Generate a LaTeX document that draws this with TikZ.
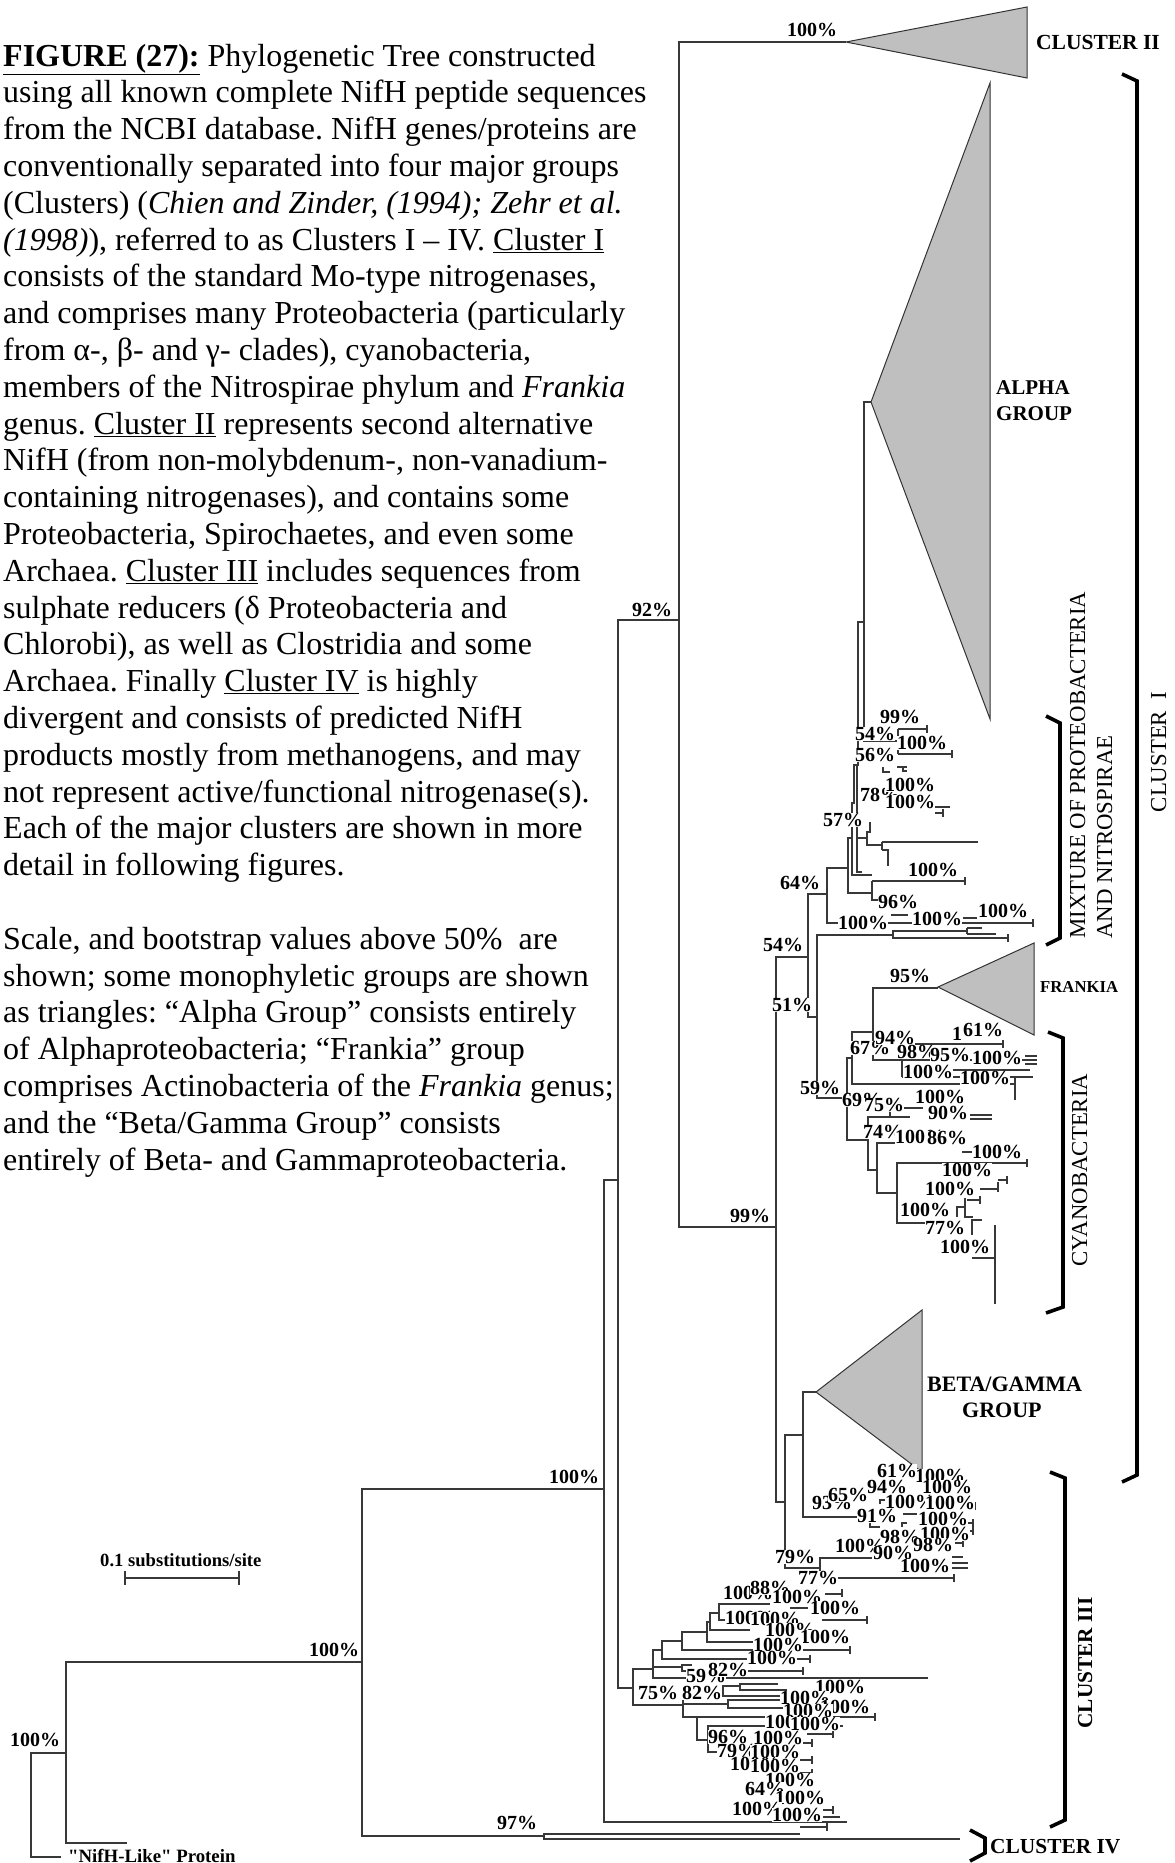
\documentclass[tikz,border=0pt]{standalone}
\usepackage{fontspec}
\setmainfont{Liberation Serif}
\frenchspacing
\newcommand\leaftick[2]{\draw[br] (#1,#2-4) -- (#1,#2+4);}
\begin{document}
\begin{tikzpicture}[x=1pt,y=-1pt,
  br/.style={draw=black!78, line width=1.15pt},
  tri/.style={draw=black!80, line width=1pt, fill=black!25},
  brk/.style={draw=black, line width=3.6pt},
  captxt/.style={anchor=base west, inner sep=0pt, font=\fontsize{32}{36.8}\selectfont},
  bs/.style={fill=white, inner sep=0.2pt, font=\fontsize{20}{20}\selectfont\bfseries},
  grp/.style={anchor=base west, inner sep=0pt, font=\fontsize{21}{21}\selectfont\bfseries},
  rottxt/.style={rotate=90, inner sep=0pt, font=\fontsize{22.8}{22.8}\selectfont}]
\useasboundingbox (0,0) rectangle (1175,1863);

% ---------------- caption ----------------
\node[captxt] (c1) at (3,66) {\underline{\textbf{FIGURE (27):}} Phylogenetic Tree constructed};
\node[captxt] (c2) at (3,102.8) {using all known complete NifH peptide sequences};
\node[captxt] (c3) at (3,139.6) {from the NCBI database. NifH genes/proteins are};
\node[captxt] (c4) at (3,176.4) {conventionally separated into four major groups};
\node[captxt] (c5) at (3,213.2) {(Clusters) (\textit{Chien and Zinder, (1994); Zehr et al.}};
\node[captxt] (c6) at (3,250) {\textit{(1998)}), referred to as Clusters I – IV. \underline{Cluster I}};
\node[captxt] (c7) at (3,286.8) {consists of the standard Mo-type nitrogenases,};
\node[captxt] (c8) at (3,323.6) {and comprises many Proteobacteria (particularly};
\node[captxt] (c9) at (3,360.4) {from α-, β- and γ- clades), cyanobacteria,};
\node[captxt] (c10) at (3,397.2) {members of the Nitrospirae phylum and \textit{Frankia}};
\node[captxt] (c11) at (3,434) {genus. \underline{Cluster II} represents second alternative};
\node[captxt] (c12) at (3,470.8) {NifH (from non-molybdenum-, non-vanadium-};
\node[captxt] (c13) at (3,507.6) {containing nitrogenases), and contains some};
\node[captxt] (c14) at (3,544.4) {Proteobacteria, Spirochaetes, and even some};
\node[captxt] (c15) at (3,581.2) {Archaea. \underline{Cluster III} includes sequences from};
\node[captxt] (c16) at (3,618) {sulphate reducers (δ Proteobacteria and};
\node[captxt] (c17) at (3,654.8) {Chlorobi), as well as Clostridia and some};
\node[captxt] (c18) at (3,691.6) {Archaea. Finally \underline{Cluster IV} is highly};
\node[captxt] (c19) at (3,728.4) {divergent and consists of predicted NifH};
\node[captxt] (c20) at (3,765.2) {products mostly from methanogens, and may};
\node[captxt] (c21) at (3,802) {not represent active/functional nitrogenase(s).};
\node[captxt] (c22) at (3,838.8) {Each of the major clusters are shown in more};
\node[captxt] (c23) at (3,875.6) {detail in following figures.};
\node[captxt] (c25) at (3,949.2) {Scale, and bootstrap values above 50\%\ \ are};
\node[captxt] (c26) at (3,986) {shown; some monophyletic groups are shown};
\node[captxt] (c27) at (3,1022.8) {as triangles: “Alpha Group” consists entirely};
\node[captxt] (c28) at (3,1059.6) {of Alphaproteobacteria; “Frankia” group};
\node[captxt] (c29) at (3,1096.4) {comprises Actinobacteria of the \textit{Frankia} genus;};
\node[captxt] (c30) at (3,1133.2) {and the “Beta/Gamma Group” consists};
\node[captxt] (c31) at (3,1170) {entirely of Beta- and Gammaproteobacteria.};

% ---------------- triangles ----------------
\draw[tri] (846,42) -- (1027,7) -- (1027,78) -- cycle;
\draw[tri] (871,402) -- (990,83) -- (990,719) -- cycle;
\draw[tri] (938,987) -- (1034,943) -- (1034,1035) -- cycle;
\draw[tri] (816,1392) -- (922,1310) -- (922,1472) -- cycle;

% ---------------- backbone ----------------
\draw[br] (66,1753) -- (31,1753) -- (31,1857) -- (61,1857);
\draw[br] (362,1662) -- (66,1662) -- (66,1843) -- (127,1843);
\draw[br] (604,1489) -- (362,1489) -- (362,1836) -- (544,1836);
\draw[br] (800,1834) -- (544,1834) -- (544,1839) -- (960,1839);
\draw[br] (618,1180) -- (604,1180) -- (604,1822) -- (847,1822);
\draw[br] (679,620) -- (618,620) -- (618,1688) -- (633,1688);
\draw[br] (846,42) -- (679,42) -- (679,1227) -- (776,1227);
\draw[br] (808,957) -- (776,957) -- (776,1502) -- (785,1502);

% ---------------- alpha / mixture ----------------
\draw[br] (871,402) -- (864,402) -- (864,741) -- (898,741);
\draw[br] (898,729) -- (898,754);
\draw[br] (898,729) -- (927,729); \leaftick{927}{729}
\draw[br] (898,754) -- (952,754); \leaftick{952}{754}
\draw[br] (864,622) -- (858,622) -- (858,765) -- (854,765) -- (854,803) -- (852,803) -- (852,875) -- (872,875);
\draw[br] (857,765) -- (857,872) -- (862,872);
\draw[br] (883,767) -- (883,772) -- (890,772);
\draw[br] (897,767) -- (907,767); \draw[br] (903,767) -- (903,771) -- (907,771);
\draw[br] (933,807) -- (950,807); \draw[br] (935,813) -- (943,813); \leaftick{943}{813}
\draw[br] (857,838) -- (867,838);
\draw[br] (870,822) -- (870,832) -- (867,832) -- (867,845) -- (882,845);
\draw[br] (882,842) -- (882,850);
\draw[br] (882,842) -- (978,842);
\draw[br] (882,850) -- (888,850) -- (888,866);
\draw[br] (827,894) -- (808,894) -- (808,1017) -- (817,1017);
\draw[br] (848,868) -- (827,868) -- (827,923) -- (1033,923); \leaftick{1033}{923}
\draw[br] (891,915) -- (908,915); \draw[br] (963,918) -- (977,918);
\draw[br] (852,838) -- (848,838) -- (848,893) -- (872,893);
\draw[br] (872,881) -- (872,900) -- (880,900);
\draw[br] (872,881) -- (965,881); \leaftick{965}{881}
\draw[br] (893,935) -- (817,935) -- (817,1098) -- (847,1098);
\draw[br] (967,931) -- (893,931) -- (893,938) -- (1008,938); \leaftick{1008}{938}
\draw[br] (967,928) -- (967,934); \draw[br] (967,928) -- (982,928); \draw[br] (967,934) -- (996,934);

% ---------------- Frankia / cyanobacteria ----------------
\draw[br] (852,1058) -- (847,1058) -- (847,1140) -- (868,1140);
\draw[br] (873,1032) -- (852,1032) -- (852,1084) -- (1015,1084);
\draw[br] (1015,1078) -- (1015,1100);
\draw[br] (938,988) -- (873,988) -- (873,1060) -- (902,1060);
\draw[br] (902,1044) -- (902,1077);
\draw[br] (902,1044) -- (1003,1044); \leaftick{1003}{1044}
\draw[br] (902,1060) -- (1037,1060);
\draw[br] (1025,1056) -- (1037,1056); \draw[br] (1025,1064) -- (1037,1064);
\draw[br] (902,1070) -- (1030,1070);
\draw[br] (902,1077) -- (1033,1077);
\draw[br] (890,1117) -- (868,1117) -- (868,1170) -- (877,1170);
\draw[br] (890,1108) -- (890,1117) -- (910,1117);
\draw[br] (890,1108) -- (923,1108);
\draw[br] (970,1115) -- (992,1115); \draw[br] (970,1119) -- (992,1119);
\draw[br] (903,1143) -- (877,1143) -- (877,1193) -- (897,1193);
\draw[br] (903,1143) -- (930,1143);
\draw[br] (962,1152) -- (977,1152);
\draw[br] (947,1163) -- (897,1163) -- (897,1223) -- (940,1223);
\draw[br] (947,1163) -- (1027,1163); \leaftick{1027}{1163}
\draw[br] (998,1180) -- (1007,1180); \leaftick{1007}{1180}
\draw[br] (980,1189) -- (998,1189); \draw[br] (998,1182) -- (998,1192);
\draw[br] (967,1200) -- (980,1200); \leaftick{980}{1200}
\draw[br] (965,1207) -- (957,1207) -- (957,1217);
\draw[br] (965,1198) -- (965,1217) -- (973,1217);
\draw[br] (982,1220) -- (972,1220) -- (972,1235);
\draw[br] (995,1225) -- (995,1304);
\draw[br] (972,1258) -- (995,1258);

% ---------------- beta/gamma ----------------
\draw[br] (803,1435) -- (785,1435) -- (785,1568) -- (820,1568);
\draw[br] (816,1392) -- (803,1392) -- (803,1517) -- (857,1517);
\draw[br] (872,1558) -- (820,1558) -- (820,1578) -- (954,1578); \leaftick{954}{1578}
\draw[br] (880,1504) -- (880,1500) -- (890,1500);
\draw[br] (903,1514) -- (917,1514);
\draw[br] (870,1523) -- (870,1527) -- (880,1527);
\draw[br] (907,1523) -- (902,1523) -- (902,1527);
\draw[br] (957,1506) -- (975,1506); \leaftick{975}{1506}
\draw[br] (957,1523) -- (973,1523); \leaftick{973}{1523}
\draw[br] (963,1531) -- (973,1531); \leaftick{973}{1531}
\draw[br] (955,1543) -- (963,1543); \leaftick{963}{1543}
\draw[br] (952,1557) -- (963,1557);
\draw[br] (952,1563) -- (968,1563);
\draw[br] (952,1568) -- (968,1568);

% ---------------- cluster III ----------------
\draw[br] (653,1669) -- (633,1669) -- (633,1705) -- (683,1705);
\draw[br] (662,1650) -- (653,1650) -- (653,1678) -- (928,1678);
\draw[br] (653,1667) -- (682,1667);
\draw[br] (692,1665) -- (682,1665) -- (682,1671) -- (803,1671); \leaftick{803}{1671}
\draw[br] (682,1641) -- (662,1641) -- (662,1659) -- (810,1659); \leaftick{810}{1659}
\draw[br] (707,1632) -- (682,1632) -- (682,1650) -- (850,1650); \leaftick{850}{1650}
\draw[br] (710,1622) -- (707,1622) -- (707,1642) -- (753,1642);
\draw[br] (719,1613) -- (710,1613) -- (710,1630) -- (750,1630);
\draw[br] (770,1604) -- (719,1604) -- (719,1620) -- (737,1620);
\draw[br] (825,1594) -- (842,1594); \leaftick{842}{1593}
\draw[br] (790,1608) -- (808,1608);
\draw[br] (822,1620) -- (867,1620); \leaftick{867}{1620}
\draw[br] (697,1717) -- (683,1717) -- (683,1691) -- (723,1691);
\draw[br] (683,1704) -- (728,1704);
\draw[br] (787,1700) -- (728,1700) -- (728,1708) -- (787,1708);
\draw[br] (740,1686) -- (723,1686) -- (723,1696) -- (787,1696);
\draw[br] (778,1684) -- (740,1684) -- (740,1690) -- (787,1690);
\draw[br] (697,1717) -- (875,1717); \leaftick{875}{1717}
\draw[br] (697,1717) -- (697,1740) -- (708,1740);
\draw[br] (843,1726) -- (708,1726) -- (708,1752) -- (733,1752);
\draw[br] (807,1734) -- (833,1734); \leaftick{833}{1734}
\draw[br] (800,1743) -- (812,1743); \leaftick{812}{1743}
\draw[br] (797,1760) -- (812,1760); \leaftick{812}{1760}
\draw[br] (800,1773) -- (812,1773); \leaftick{812}{1773}
\draw[br] (823,1810) -- (833,1810); \leaftick{833}{1810}
\draw[br] (823,1817) -- (840,1817);
\draw[br] (800,1827) -- (827,1827); \leaftick{827}{1827}

% ---------------- bootstrap labels ----------------
\foreach \x/\y/\t [count=\i] in {
 812/30/100\%, 652/610/92\%, 750/1216/99\%, 574/1477/100\%, 334/1650/100\%,
 35/1740/100\%, 517/1823/97\%,
 900/717/99\%, 922/743/100\%, 875/734/54\%, 875/755/56\%, 880/795/78\%,
 910/785/100\%, 910/802/100\%, 843/820/57\%, 933/870/100\%, 898/902/96\%,
 800/883/64\%, 863/923/100\%, 937/919/100\%, 1003/911/100\%, 783/945/54\%,
 910/976/95\%, 792/1005/51\%,
 820/1088/59\%, 870/1048/67\%, 895/1038/94\%, 917/1052/98\%, 950/1055/95\%,
 957/1034/1, 983/1030/61\%, 997/1058/100\%, 928/1072/100\%, 985/1078/100\%,
 940/1097/100\%, 862/1100/69\%, 884/1105/75\%, 948/1113/90\%, 883/1132/74\%,
 920/1137/100\%, 947/1138/86\%, 997/1152/100\%, 967/1170/100\%, 950/1189/100\%,
 925/1210/100\%, 945/1228/77\%, 965/1247/100\%,
 940/1476/100\%, 897/1471/61\%, 947/1487/100\%, 887/1487/94\%, 910/1502/100\%,
 950/1503/100\%, 832/1503/93\%, 848/1495/65\%, 877/1516/91\%, 943/1519/100\%,
 945/1534/100\%, 900/1537/98\%, 933/1545/98\%, 860/1546/100\%, 893/1553/90\%,
 925/1566/100\%, 795/1557/79\%, 818/1578/77\%,
 748/1593/100\%, 770/1588/88\%, 797/1597/100\%, 835/1608/100\%,
 750/1618/100\%, 775/1619/100\%, 790/1630/100\%, 825/1637/100\%, 778/1645/100\%,
 772/1658/100\%, 706/1676/59\%, 728/1670/82\%, 658/1693/75\%, 702/1693/82\%,
 840/1687/100\%, 805/1698/100\%, 845/1707/100\%, 808/1711/100\%,
 790/1722/100\%, 815/1724/100\%, 728/1737/96\%, 778/1738/100\%,
 737/1751/79\%, 775/1752/100\%, 755/1764/100\%, 775/1766/100\%, 790/1780/100\%,
 765/1789/64\%, 800/1798/100\%, 757/1809/100\%, 797/1815/100\%}
 \node[bs] (bs\i) at (\x,\y) {\t};

% ---------------- group labels ----------------
\node[grp, font=\fontsize{21.5}{21.5}\selectfont\bfseries] (lc2) at (1036,49) {CLUSTER II};
\node[grp] (la1) at (996,394) {ALPHA};
\node[grp] (la2) at (996,420) {GROUP};
\node[grp, font=\fontsize{16.7}{16.7}\selectfont\bfseries] (lfr) at (1040,992) {FRANKIA};
\node[grp, font=\fontsize{22}{22}\selectfont\bfseries] (lbg1) at (927,1391) {BETA/GAMMA};
\node[grp, font=\fontsize{22}{22}\selectfont\bfseries] (lbg2) at (962,1417) {GROUP};
\node[grp, font=\fontsize{21.4}{21.4}\selectfont\bfseries] (lc4) at (990,1853) {CLUSTER IV};
\node[grp, font=\fontsize{18.6}{18.6}\selectfont\bfseries] (lsc) at (100,1566) {0.1 substitutions/site};
\node[grp, font=\fontsize{18.8}{18.8}\selectfont\bfseries] (lnl) at (68,1862) {\textquotedbl NifH-Like\textquotedbl\ Protein};

% rotated labels
\node[rottxt, anchor=base west] (lmx1) at (1085,939) {MIXTURE OF PROTEOBACTERIA};
\node[rottxt, anchor=base west] (lmx2) at (1112,939) {AND NITROSPIRAE};
\node[rottxt, anchor=base] (lc1) at (1166,752) {CLUSTER\hspace{0.5em}I};
\node[rottxt, anchor=base] (lcy) at (1087,1170) {CYANOBACTERIA};
\node[rottxt, anchor=base, font=\fontsize{21.3}{21.3}\selectfont\bfseries] (lc3) at (1092,1663) {CLUSTER III};

% ---------------- brackets ----------------
\draw[brk] (1122,74) -- (1137,81) -- (1137,1475) -- (1122,1482);
\draw[brk] (1046,716) -- (1060,723) -- (1060,938) -- (1046,945);
\draw[brk] (1048,1032) -- (1063,1038) -- (1063,1307) -- (1046,1313);
\draw[brk] (1050,1472) -- (1065,1478) -- (1065,1820) -- (1050,1827);
\draw[brk] (970,1830) -- (985,1838) -- (985,1853) -- (970,1861);

% ---------------- scale bar ----------------
\coordinate (sb1) at (125,1578);
\coordinate (sb2) at (239,1578);
\draw[br] (sb1) -- (sb2);
\draw[br] (125,1571) -- (125,1585);
\draw[br] (239,1571) -- (239,1585);
\end{tikzpicture}
\end{document}
